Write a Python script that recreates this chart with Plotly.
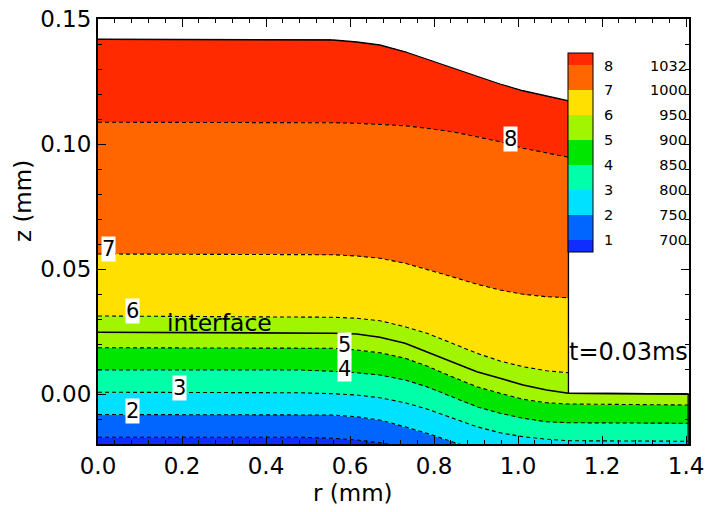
import numpy as np
import plotly.graph_objects as go

# Radial stations (mm) at which the free surface, interface and isotherms are given
r_pts = [0.0, 0.48, 0.56, 0.616, 0.671, 0.731, 0.783, 0.843, 0.902, 0.957, 1.012, 1.068, 1.12]
# the substrate reaches further out than the splat
r_sub = r_pts + [1.405]

# Free surface of the splat (z, mm)
top_z = [0.1419, 0.1419, 0.1416, 0.1408, 0.1396, 0.1369, 0.1339, 0.1303, 0.1269, 0.1240, 0.1213, 0.1192, 0.1173]
# Splat / substrate interface (z, mm), on r_sub
interface_z = [0.0247, 0.0245, 0.0243, 0.0240, 0.0227, 0.0203, 0.0169, 0.0129, 0.0089, 0.0063, 0.0036, 0.0016, 0.0003, 0.0]

# Isotherm levels
level_ids = [1, 2, 3, 4, 5, 6, 7, 8]
level_temps = [700, 750, 800, 850, 900, 950, 1000, 1032]

# Isotherm heights (z, mm); levels 1-5 on r_sub, levels 6-8 on r_pts
iso_1 = [-0.0173, -0.0173, -0.0177, -0.0184, -0.0195, -0.0212, -0.0230, -0.0250, -0.0270, -0.0290, -0.0300, -0.0310, -0.0310, -0.0310]
iso_2 = [-0.0082, -0.0082, -0.0084, -0.0091, -0.0104, -0.0131, -0.0157, -0.0191, -0.0222, -0.0245, -0.0260, -0.0270, -0.0275, -0.0280]
iso_3 = [0.0007, 0.0005, 0.0001, -0.0004, -0.0015, -0.0035, -0.0060, -0.0097, -0.0131, -0.0155, -0.0171, -0.0181, -0.0187, -0.0189]
iso_4 = [0.0096, 0.0096, 0.0091, 0.0085, 0.0076, 0.0056, 0.0029, -0.0011, -0.0051, -0.0077, -0.0097, -0.0111, -0.0115, -0.0117]
iso_5 = [0.0185, 0.0185, 0.0183, 0.0176, 0.0165, 0.0143, 0.0112, 0.0069, 0.0029, 0.0003, -0.0021, -0.0035, -0.0040, -0.0044]
iso_6 = [0.0312, 0.0309, 0.0307, 0.0303, 0.0293, 0.0269, 0.0243, 0.0203, 0.0163, 0.0132, 0.0109, 0.0093, 0.0085]
iso_7 = [0.0560, 0.0559, 0.0557, 0.0552, 0.0543, 0.0523, 0.0499, 0.0469, 0.0439, 0.0416, 0.0399, 0.0389, 0.0385]
iso_8 = [0.1087, 0.1087, 0.1085, 0.1083, 0.1079, 0.1073, 0.1063, 0.1049, 0.1029, 0.1009, 0.0983, 0.0963, 0.0947]

isotherms = [(r_sub, iso_1), (r_sub, iso_2), (r_sub, iso_3), (r_sub, iso_4), (r_sub, iso_5),
             (r_pts, iso_6), (r_pts, iso_7), (r_pts, iso_8)]

# Band colours, from below level 1 up to above level 8
band_colors = ["#0f2dff", "#0066ff", "#00e1ff", "#00ffa8", "#00e600",
               "#a2f500", "#ffe000", "#ff6600", "#ff2a00"]

R_MAX = 1.407
Z_MIN, Z_MAX = -0.02, 0.15

# Raster of temperature bands over the splat + substrate
rg = np.linspace(0.0, R_MAX, 593)
zg = np.linspace(Z_MIN, Z_MAX, 427)
Z = zg[:, None]
band = np.zeros((zg.size, rg.size))
for rr, zz in isotherms:
    band += (Z > np.interp(rg, rr, zz)[None, :])
top_g = np.interp(rg, r_pts, top_z)[None, :]
iface_g = np.interp(rg, r_sub, interface_z)[None, :]
splat_edge, sub_edge = r_pts[-1], r_sub[-1]
inside = ((rg[None, :] <= splat_edge) & (Z <= top_g)) | \
         ((rg[None, :] > splat_edge) & (rg[None, :] <= sub_edge) & (Z <= iface_g))
field = np.where(inside, band + 0.5, np.nan)

# discrete colour scale on the level-index axis (0.5 .. 8.5)
cmin, cmax = 0.5, 8.5
bounds = [0.0] + [(k - cmin) / (cmax - cmin) for k in level_ids] + [1.0]
colorscale = []
for i, c in enumerate(band_colors):
    colorscale.append([bounds[i], c])
    colorscale.append([bounds[i + 1], c])

nb = "\u00a0"
tick_text = [f"{i}{nb * (8 if t >= 1000 else 10)}{t}" for i, t in zip(level_ids, level_temps)]

FONT = "DejaVu Sans"
L, R, T, B = 98, 20, 19, 68
PW, PH = 709 - L - R, 512 - T - B

def px_x(px):
    return (px - L) / PW

def px_y(py):
    return (512 - B - py) / PH

fig = go.Figure()

fig.add_trace(go.Heatmap(
    x=rg, y=zg, z=field, zmin=cmin, zmax=cmax, zsmooth=False,
    colorscale=colorscale, hoverinfo="skip",
    colorbar=dict(
        tickvals=level_ids, ticktext=tick_text,
        thickness=25, thicknessmode="pixels", len=199, lenmode="pixels",
        x=px_x(568), xanchor="left", xpad=0,
        y=px_y(152.5), yanchor="middle", ypad=0,
        outlinewidth=1, outlinecolor="black",
        ticks="outside", ticklen=8, tickcolor="rgba(0,0,0,0)",
        tickfont=dict(family=FONT, size=14.5, color="black"),
    ),
))

# isotherms (dashed)
for rr, zz in isotherms:
    fig.add_trace(go.Scatter(x=rr, y=zz, mode="lines", hoverinfo="skip", showlegend=False,
                             line=dict(color="black", width=1.1, dash="4px,3px")))

# splat / substrate interface
fig.add_trace(go.Scatter(x=r_sub, y=interface_z, mode="lines", hoverinfo="skip", showlegend=False,
                         line=dict(color="black", width=1.6)))

# outer boundary: free surface, splat edge, substrate top and edge
out_r = r_pts + [splat_edge, sub_edge, sub_edge]
out_z = top_z + [interface_z[-2], interface_z[-1], Z_MIN]
fig.add_trace(go.Scatter(x=out_r, y=out_z, mode="lines", hoverinfo="skip", showlegend=False,
                         line=dict(color="black", width=1.3)))

# isotherm labels
label_pos = {8: (0.983, 0.1019), 7: (0.026, 0.0579), 6: (0.082, 0.0333), 5: (0.588, 0.0196),
             4: (0.588, 0.0100), 3: (0.194, 0.0024), 2: (0.083, -0.0067)}
annotations = []
for k, (lx, lz) in label_pos.items():
    annotations.append(dict(x=lx, y=lz, xref="x", yref="y", text=str(k), showarrow=False,
                            bgcolor="white", borderpad=0, xanchor="center", yanchor="middle",
                            font=dict(family=FONT, size=21, color="black")))
annotations.append(dict(x=0.290, y=0.0286, xref="x", yref="y", text="interface", showarrow=False,
                        xanchor="center", yanchor="middle",
                        font=dict(family=FONT, size=23.5, color="black")))
annotations.append(dict(x=1.264, y=0.0168, xref="x", yref="y", text="t=0.03ms", showarrow=False,
                        xanchor="center", yanchor="middle",
                        font=dict(family=FONT, size=24, color="black")))
annotations.append(dict(x=px_x(353), y=px_y(493), xref="paper", yref="paper",
                        text="r (mm)", showarrow=False, xanchor="center", yanchor="middle",
                        font=dict(family=FONT, size=23, color="black")))
annotations.append(dict(x=px_x(23), y=px_y(201), xref="paper", yref="paper",
                        text="z (mm)", showarrow=False, textangle=-90,
                        xanchor="center", yanchor="middle",
                        font=dict(family=FONT, size=23, color="black")))

axis_common = dict(
    showgrid=False, zeroline=False, showline=True, linewidth=2, linecolor="black",
    mirror="allticks", ticks="inside", ticklen=8, tickwidth=1, tickcolor="black",
    tickfont=dict(family=FONT, size=23, color="black"),
)
fig.update_layout(
    width=709, height=512,
    margin=dict(l=L, r=R, t=T, b=B, autoexpand=False),
    paper_bgcolor="white", plot_bgcolor="white",
    showlegend=False,
    annotations=annotations,
    xaxis=dict(range=[0, R_MAX], tick0=0, dtick=0.2, tickformat=".1f",
               minor=dict(dtick=0.04, ticks="inside", ticklen=4, tickwidth=1, tickcolor="black"),
               **axis_common),
    yaxis=dict(range=[Z_MIN, Z_MAX], tick0=0, dtick=0.05, tickformat=".2f",
               minor=dict(dtick=0.01, ticks="inside", ticklen=4, tickwidth=1, tickcolor="black"),
               **axis_common),
)

fig.write_html("out.html")
